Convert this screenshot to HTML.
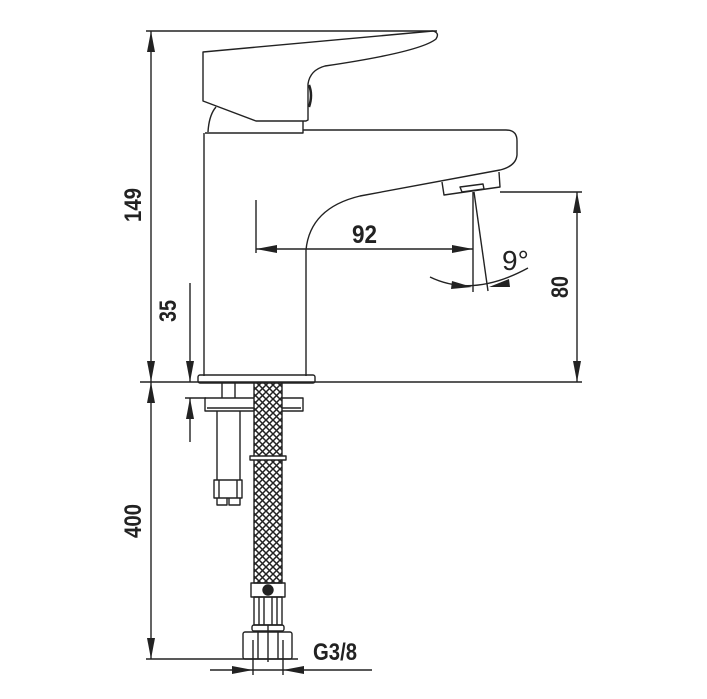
<!DOCTYPE html>
<html><head><meta charset="utf-8"><style>
html,body{margin:0;padding:0;background:#fff;}
svg{display:block;}
text{font-family:"Liberation Sans Narrow","Liberation Sans",sans-serif;font-weight:bold;fill:#222;}
</style></head><body>
<svg width="707" height="699" viewBox="0 0 707 699" xmlns="http://www.w3.org/2000/svg">
<defs>
<pattern id="mesh" width="7" height="7" patternUnits="userSpaceOnUse">
<rect width="7" height="7" fill="#fff"/>
<path d="M0 0L7 7M7 0L0 7" stroke="#222" stroke-width="1.5"/>
</pattern>
</defs>
<g fill="none" stroke="#222" stroke-width="1.4" stroke-linejoin="round">
<line x1="146" y1="31" x2="437" y2="31"/>
<line x1="151" y1="31" x2="151" y2="382"/>
<line x1="140" y1="382" x2="582" y2="382"/>
<line x1="151" y1="382" x2="151" y2="659"/>
<line x1="146" y1="659" x2="298" y2="659"/>
<line x1="190" y1="283" x2="190" y2="382"/>
<line x1="190" y1="398" x2="190" y2="442"/>
<line x1="185" y1="398" x2="206" y2="398"/>
<line x1="500" y1="192" x2="582" y2="192"/>
<line x1="577" y1="192" x2="577" y2="382"/>
<line x1="256" y1="200" x2="256" y2="253"/>
<line x1="256" y1="249" x2="473" y2="249"/>
<line x1="473" y1="192" x2="473" y2="292"/>
<line x1="474" y1="192" x2="488" y2="291"/>
<path d="M430 277 Q473 298 528 268"/>
<line x1="210" y1="670" x2="372" y2="670"/>
<line x1="253" y1="640" x2="253" y2="675"/>
<line x1="283" y1="640" x2="283" y2="675"/>
<line x1="268" y1="625" x2="268" y2="662"/>

<path d="M203 52 L433 31 Q440 33 436 39 Q420 52 325 66 Q310 70 308 84 L308 120 L306 121 L256 121 L203 101 Z"/>
<path d="M309 85 Q313 95 309 107" stroke-width="2.5"/>
<path d="M208 132 Q209 115 216 107"/>
<path d="M205 133 L303 133 L303 121"/>
<path d="M204 133 L204 376"/>
<path d="M303 130 L506 130 Q517 130 517 141 L517 155 Q516 166 500 170 L360 196 Q310 208 306 250 L306 376"/>
<path d="M442 182 L444 195 L500 187 L499 172"/>
<path d="M460 187 L462 192 L484 189 L483 184 Z"/>
<rect x="198" y="375" width="117" height="8" rx="2"/>
<line x1="222" y1="383" x2="222" y2="398"/>
<line x1="235" y1="383" x2="235" y2="398"/>
<rect x="205" y="398" width="98" height="13"/>
<line x1="207" y1="408" x2="301" y2="408"/>
<line x1="217" y1="411" x2="217" y2="480"/>
<line x1="240" y1="411" x2="240" y2="480"/>
<rect x="214" y="480" width="28" height="18"/>
<line x1="219" y1="480" x2="219" y2="498"/>
<line x1="237" y1="480" x2="237" y2="498"/>
<path d="M217 498 L217 505 L227 505 L227 498 M229 498 L229 505 L240 505 L240 498"/>
<rect x="254" y="383" width="28" height="200" fill="url(#mesh)"/>
<rect x="250" y="456" width="36" height="4" fill="#fff"/>
<rect x="251" y="583" width="34" height="14"/>
<circle cx="268" cy="590" r="5" fill="#222"/>
<rect x="254" y="597" width="28" height="28"/>
<line x1="259" y1="597" x2="259" y2="625"/>
<line x1="264" y1="597" x2="264" y2="625"/>
<line x1="272" y1="597" x2="272" y2="625"/>
<line x1="277" y1="597" x2="277" y2="625"/>
<rect x="252" y="625" width="32" height="6" rx="2"/>
<rect x="243" y="632" width="49" height="27" rx="2"/>
<line x1="258" y1="632" x2="258" y2="659"/>
<line x1="278" y1="632" x2="278" y2="659"/>
</g>
<g fill="#222" stroke="none">
<path d="M151 31 L147 52 L155 52 Z"/>
<path d="M151 382 L147 361 L155 361 Z"/>
<path d="M151 382 L147 403 L155 403 Z"/>
<path d="M151 659 L147 638 L155 638 Z"/>
<path d="M190 382 L186 361 L194 361 Z"/>
<path d="M190 398 L186 419 L194 419 Z"/>
<path d="M577 192 L573 213 L581 213 Z"/>
<path d="M577 382 L573 361 L581 361 Z"/>
<path d="M256 249 L277 245 L277 253 Z"/>
<path d="M473 249 L452 245 L452 253 Z"/>
<path d="M472 287 L452 281 L451 289 Z"/>
<path d="M489 287 L509 279 L510 287 Z"/>
<path d="M253 670 L232 666 L232 674 Z"/>
<path d="M283 670 L304 666 L304 674 Z"/>
</g>
<text x="141" y="222" font-size="24" textLength="34" lengthAdjust="spacingAndGlyphs" transform="rotate(-90 141 222)">149</text>
<text x="176" y="322" font-size="24" textLength="22" lengthAdjust="spacingAndGlyphs" transform="rotate(-90 176 322)">35</text>
<text x="141" y="538" font-size="24" textLength="34" lengthAdjust="spacingAndGlyphs" transform="rotate(-90 141 538)">400</text>
<text x="568" y="298" font-size="24" textLength="22" lengthAdjust="spacingAndGlyphs" transform="rotate(-90 568 298)">80</text>
<text x="352" y="243" font-size="25" textLength="25" lengthAdjust="spacingAndGlyphs">92</text>
<text x="502" y="270" font-size="28" style="font-weight:normal;font-family:'Liberation Sans',sans-serif">9°</text>
<text x="313" y="660" font-size="24" textLength="44" lengthAdjust="spacingAndGlyphs">G3/8</text>
</svg>
</body></html>
